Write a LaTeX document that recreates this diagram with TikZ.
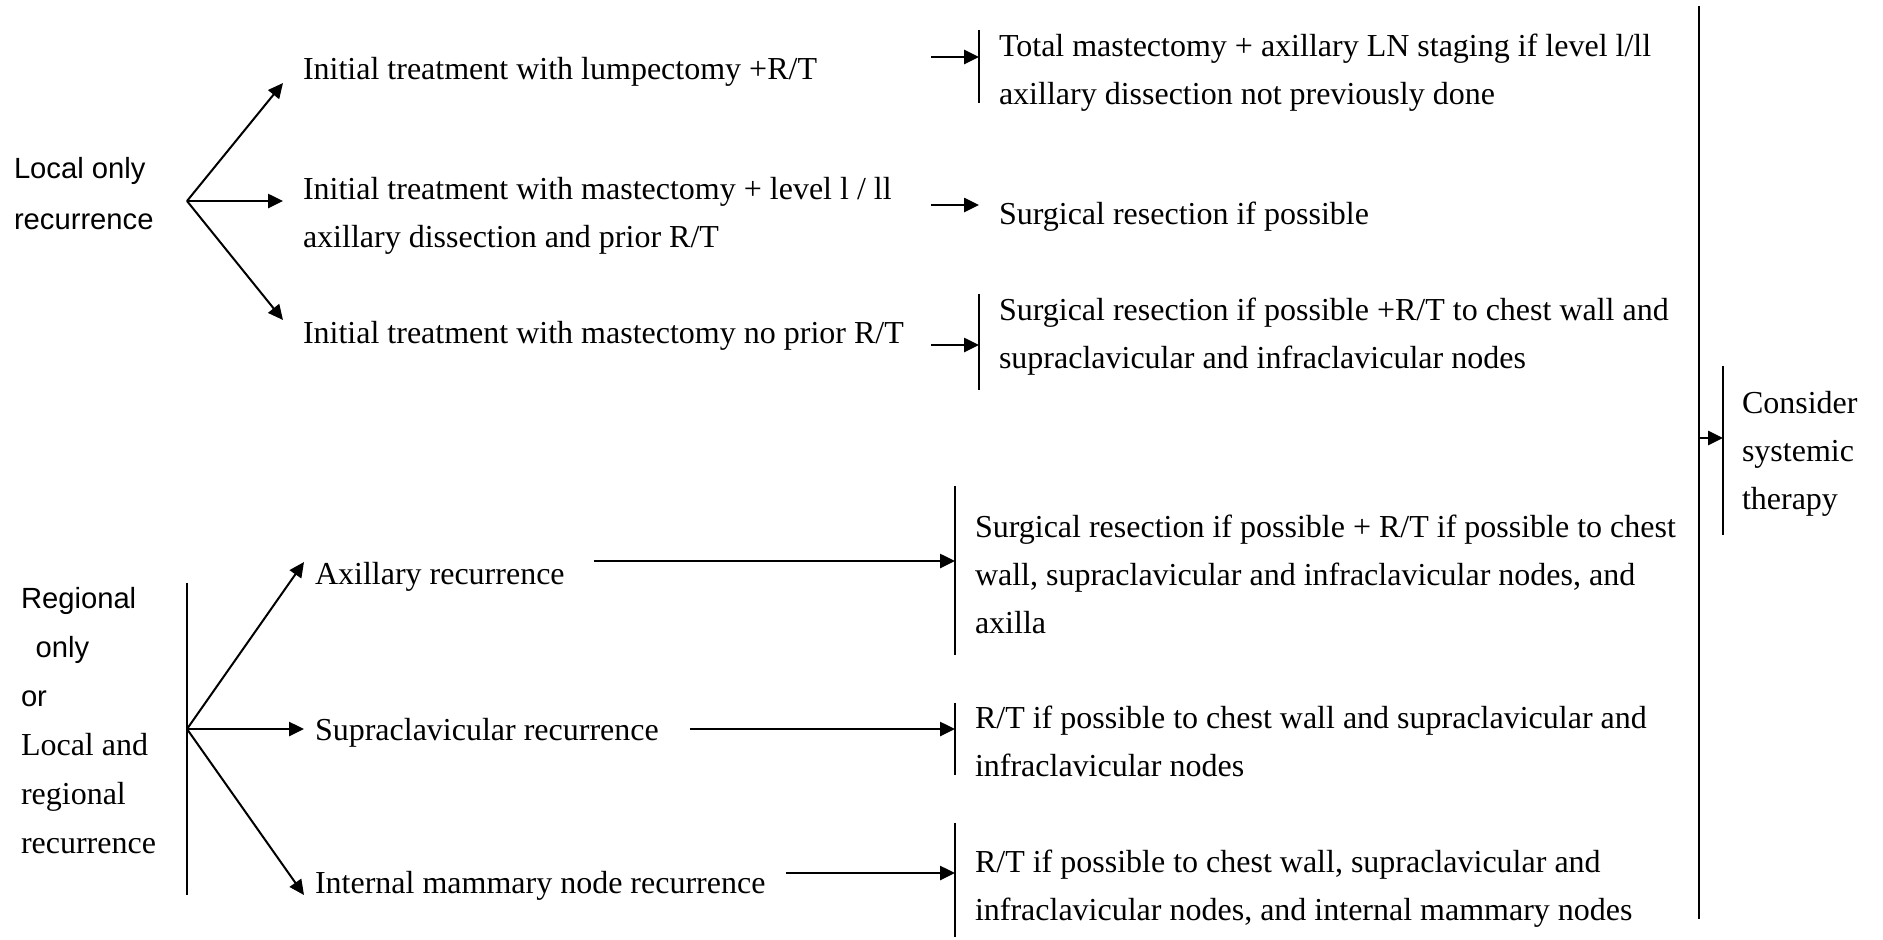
\documentclass[tikz,border=0pt]{standalone}
\usepackage{fontspec}
\setmainfont{Liberation Serif}
\newfontfamily\sansfam{Liberation Sans}
\usetikzlibrary{arrows.meta,calc}
\begin{document}
% Text nodes are placed by the baseline of their last line (base west).
\begin{tikzpicture}[x=0.5pt,y=-0.5pt,
  txt/.style={inner sep=0pt, outer sep=0pt, anchor=base west, align=left,
              font=\fontsize{16}{24}\selectfont},
  sanstxt/.style={txt, font=\sansfam\fontsize{14.6}{25.5}\selectfont},
  arr/.style={line width=1.3pt, -{Triangle[length=7.5pt,width=7pt]}},
  diag/.style={line width=1pt, -{Triangle[length=7.5pt,width=7pt]}},
  bar/.style={inner sep=0pt, outer sep=0pt, minimum width=0pt},
  barline/.style={line width=0.9pt},
]
\fill[white] (0,0) rectangle (1883,939);
\useasboundingbox (0,0) rectangle (1883,939);

% ---- local only recurrence ----
\node[sanstxt] (loc) at (14,229.5) {Local only\\recurrence};
\coordinate (lf) at (187,201);
\node[txt] (l1) at (303,79) {Initial treatment with lumpectomy +R/T};
\node[txt] (l2) at (303,247) {Initial treatment with mastectomy + level l / ll\\axillary dissection and prior R/T};
\node[txt] (l3) at (303,343) {Initial treatment with mastectomy no prior R/T};
\coordinate (t1) at (283,83);
\coordinate (t2) at (283,201);
\coordinate (t3) at (283,320);
\draw[diag] (lf) -- (t1);
\draw[arr] (lf) -- (t2);
\draw[diag] (lf) -- (t3);

% outcomes of the local branch
\node[bar, minimum height=36.5pt] (r1b) at (979,66.5) {};
\draw[barline] (r1b.north) -- (r1b.south);
\node[txt] (r1) at (999,104) {Total mastectomy + axillary LN staging if level l/ll\\axillary dissection not previously done};
\coordinate (s1) at (931,57);
\draw[arr] (s1) -- (s1 -| r1b);

\coordinate (s2) at (931,205);
\coordinate (e2) at (979,205);
\draw[arr] (s2) -- (e2);
\node[txt] (r2) at (999,224) {Surgical resection if possible};

\node[bar, minimum height=48pt] (r3b) at (979,342) {};
\draw[barline] (r3b.north) -- (r3b.south);
\node[txt] (r3) at (999,368) {Surgical resection if possible +R/T to chest wall and\\supraclavicular and infraclavicular nodes};
\coordinate (s3) at (931,345);
\draw[arr] (s3) -- (s3 -| r3b);

% ---- systemic therapy ----
\node[bar, minimum height=456.5pt] (big) at (1699,462.5) {};
\draw[barline] (big.north) -- (big.south);
\node[bar, minimum height=84.5pt] (cb) at (1723,450.5) {};
\draw[barline] (cb.north) -- (cb.south);
\coordinate (ca) at (1723,438);
\draw[arr] (big |- ca) -- (ca);
\node[txt] (cst) at (1742,509) {Consider\\systemic\\therapy};

% ---- regional recurrence ----
\node[txt, font=\fontsize{16}{24.5}\selectfont] (rg) at (21,853.5)
  {{\sansfam\fontsize{14.6}{24.5}\selectfont Regional}\\
   {\sansfam\fontsize{14.6}{24.5}\selectfont\hspace*{7.3pt}only}\\
   {\sansfam\fontsize{14.6}{24.5}\selectfont or}\\
   Local and\\regional\\recurrence};
\node[bar, minimum height=156pt] (rv) at (187,739) {};
\draw[barline] (rv.north) -- (rv.south);
\coordinate (rf) at (187,729);
\node[txt] (ax) at (315,584) {Axillary recurrence};
\node[txt] (sc) at (315,740) {Supraclavicular recurrence};
\node[txt] (im) at (315,893) {Internal mammary node recurrence};
\coordinate (u1) at (304,562);
\coordinate (u2) at (304,729);
\coordinate (u3) at (304,895);
\draw[diag] (rf) -- (u1);
\draw[arr] (rf) -- (u2);
\draw[diag] (rf) -- (u3);

% outcomes of the regional branch
\node[bar, minimum height=84.5pt] (b1) at (955,570.5) {};
\node[bar, minimum height=36pt] (b2) at (955,739) {};
\node[bar, minimum height=57pt] (b3) at (955,880) {};
\draw[barline] (b1.north) -- (b1.south);
\draw[barline] (b2.north) -- (b2.south);
\draw[barline] (b3.north) -- (b3.south);
\coordinate (a1) at (594,561);
\coordinate (a2) at (690,729);
\coordinate (a3) at (786,873);
\draw[arr] (a1) -- (a1 -| b1);
\draw[arr] (a2) -- (a2 -| b2);
\draw[arr] (a3) -- (a3 -| b3);
\node[txt] (rb1) at (975,633) {Surgical resection if possible + R/T if possible to chest\\wall, supraclavicular and infraclavicular nodes, and\\axilla};
\node[txt] (rb2) at (975,776) {R/T if possible to chest wall and supraclavicular and\\infraclavicular nodes};
\node[txt] (rb3) at (975,920) {R/T if possible to chest wall, supraclavicular and\\infraclavicular nodes, and internal mammary nodes};
\end{tikzpicture}
\end{document}
